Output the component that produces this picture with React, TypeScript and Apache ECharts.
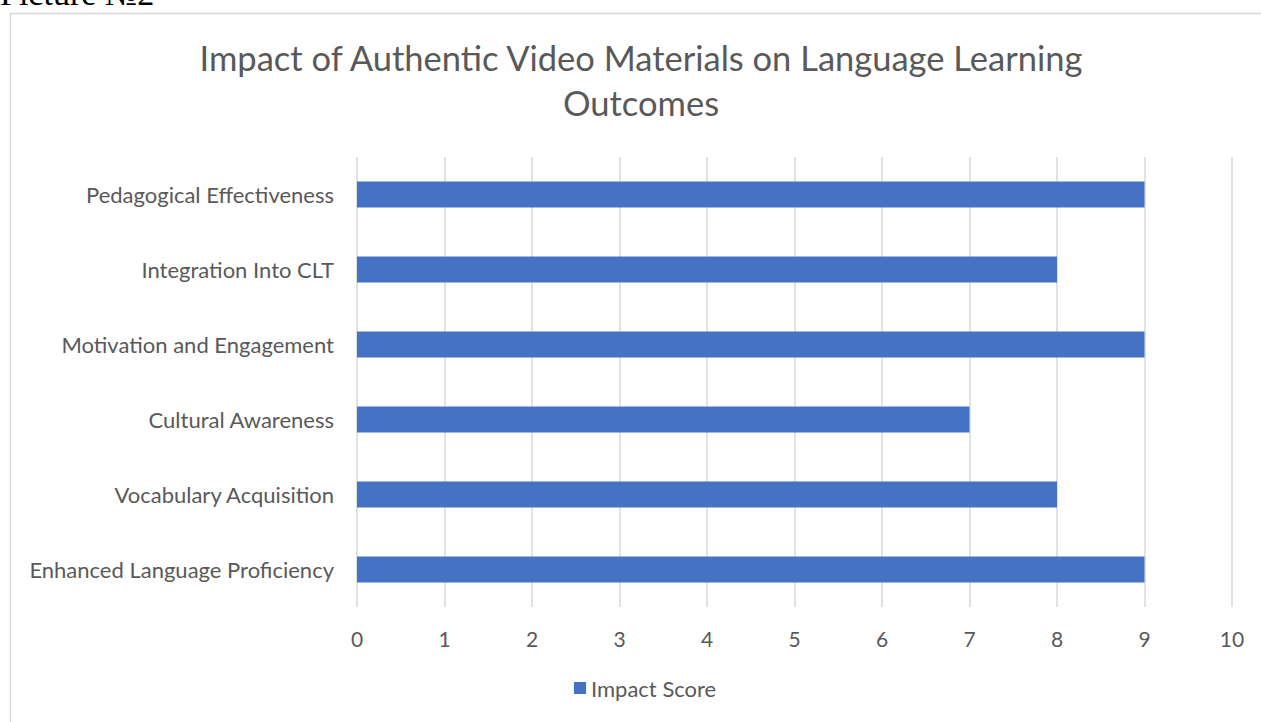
import React, { useEffect, useRef } from "react";
import * as echarts from "echarts";

const categories = [
  "Enhanced Language Proficiency",
  "Vocabulary Acquisition",
  "Cultural Awareness",
  "Motivation and Engagement",
  "Integration Into CLT",
  "Pedagogical Effectiveness",
];
const impactScores = [9, 8, 7, 9, 8, 9];
const seriesName = "Impact Score";
const titleText = "Impact of Authentic Video Materials on Language Learning\nOutcomes";
const captionText = "Picture №2";

export default function App() {
  const ref = useRef<HTMLDivElement>(null);
  useEffect(() => {
    document.body.style.margin = "0";
    const chart = echarts.init(ref.current!, null, { renderer: "svg" });
    const font = "Lato, 'Open Sans', sans-serif";
    chart.setOption({
      animation: false,
      backgroundColor: "#ffffff",
      graphic: [
        {
          type: "rect",
          shape: { x: 10.5, y: 13.5, width: 1270, height: 730 },
          style: { fill: "none", stroke: "#d9d9d9", lineWidth: 1.5 },
          silent: true,
        },
        {
          type: "text",
          x: 0,
          y: -7,
          style: {
            text: captionText,
            fontFamily: "'Liberation Serif', 'Times New Roman', serif",
            fontSize: 34,
            fill: "#000000",
            textVerticalAlign: "middle",
          },
          silent: true,
        },
        {
          type: "text",
          x: 641,
          y: 35,
          style: {
            text: titleText,
            fontFamily: font,
            fontSize: 34.5,
            lineHeight: 45,
            fill: "#595959",
            textAlign: "center",
            textVerticalAlign: "top",
          },
          silent: true,
        },
      ],
      legend: {
        bottom: 18,
        left: 569,
        itemWidth: 12,
        itemHeight: 12,
        icon: "rect",
        textStyle: { fontFamily: font, fontSize: 22, color: "#595959" },
        data: [seriesName],
      },
      grid: { left: 357, right: 29, top: 157, bottom: 115 },
      xAxis: {
        type: "value",
        min: 0,
        max: 10,
        interval: 1,
        axisLine: { show: false },
        axisTick: { show: false },
        splitLine: { show: true, lineStyle: { color: "#d9d9d9", width: 1.5 } },
        axisLabel: { fontFamily: font, fontSize: 21, color: "#595959", margin: 21 },
      },
      yAxis: {
        type: "category",
        data: categories,
        axisLine: { show: false },
        axisTick: { show: false },
        axisLabel: { fontFamily: font, fontSize: 22, color: "#595959", margin: 23 },
      },
      series: [
        {
          name: seriesName,
          type: "bar",
          data: impactScores,
          barWidth: 26,
          itemStyle: { color: "#4472c4" },
        },
      ],
    });
    return () => chart.dispose();
  }, []);
  return <div ref={ref} style={{ width: 1261, height: 722 }} />;
}
